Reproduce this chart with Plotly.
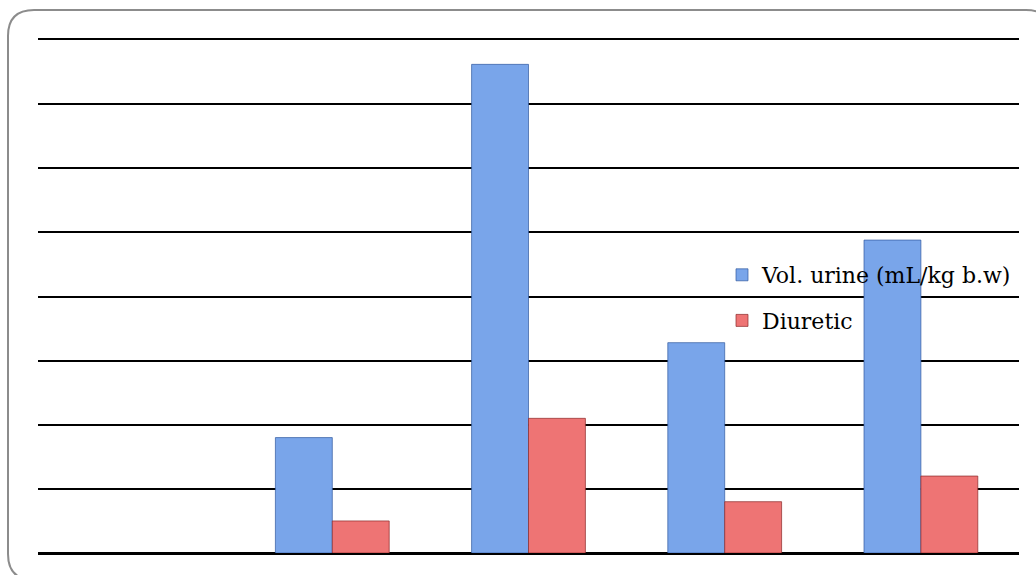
import plotly.graph_objects as go

categories = ["1", "2", "3", "4", "5"]
vol_urine = [None, 1.80, 7.62, 3.28, 4.88]
diuretic = [None, 0.50, 2.10, 0.80, 1.20]
y_ticks = [0, 1, 2, 3, 4, 5, 6, 7, 8]

W, H = 1036, 575
L, R, T, B = 38, 17, 40, 22
pw, ph = W - L - R, H - T - B

fig = go.Figure()
fig.add_trace(go.Bar(
    x=categories, y=vol_urine, name="Vol. urine (mL/kg b.w)",
    legendgroup="a",
    marker=dict(color="#79a5ea", line=dict(color="rgba(50,90,160,0.7)", width=1)),
))
fig.add_trace(go.Bar(
    x=categories, y=diuretic, name="Diuretic",
    legendgroup="b",
    marker=dict(color="#ee7474", line=dict(color="rgba(140,40,40,0.7)", width=1)),
))

def px2x(p):
    return (p - L) / pw

def py2y(p):
    return (H - B - p) / ph

x0, x1, y0, y1 = 8, 1052, 10, 580
r = 26
path = (
    f"M{px2x(x0 + r)},{py2y(y0)} L{px2x(x1 - r)},{py2y(y0)} "
    f"Q{px2x(x1)},{py2y(y0)} {px2x(x1)},{py2y(y0 + r)} "
    f"L{px2x(x1)},{py2y(y1 - r)} Q{px2x(x1)},{py2y(y1)} {px2x(x1 - r)},{py2y(y1)} "
    f"L{px2x(x0 + r)},{py2y(y1)} Q{px2x(x0)},{py2y(y1)} {px2x(x0)},{py2y(y1 - r)} "
    f"L{px2x(x0)},{py2y(y0 + r)} Q{px2x(x0)},{py2y(y0)} {px2x(x0 + r)},{py2y(y0)} Z"
)
fig.add_shape(type="path", path=path, xref="paper", yref="paper",
              line=dict(color="#8c8c8c", width=2), layer="below")

fig.update_layout(
    width=W, height=H,
    margin=dict(l=L, r=R, t=T, b=B),
    plot_bgcolor="white", paper_bgcolor="white",
    barmode="group", bargap=0.42, bargroupgap=0,
    font=dict(family="DejaVu Serif", size=22, color="black"),
    showlegend=True,
    legend=dict(x=px2x(722), y=py2y(254), xanchor="left", yanchor="top",
                bgcolor="rgba(0,0,0,0)", traceorder="grouped", tracegroupgap=14,
                font=dict(family="DejaVu Serif", size=22)),
    xaxis=dict(showticklabels=False, showgrid=False, zeroline=False,
               showline=True, mirror=True, linecolor="black", linewidth=2,
               ticks="", range=[-0.5, 4.5]),
    yaxis=dict(range=[0, 8], tickvals=y_ticks, showticklabels=False,
               showgrid=True, gridcolor="black", gridwidth=2,
               zeroline=True, zerolinecolor="black", zerolinewidth=2,
               showline=False, ticks=""),
)

fig.write_html("out.html")
